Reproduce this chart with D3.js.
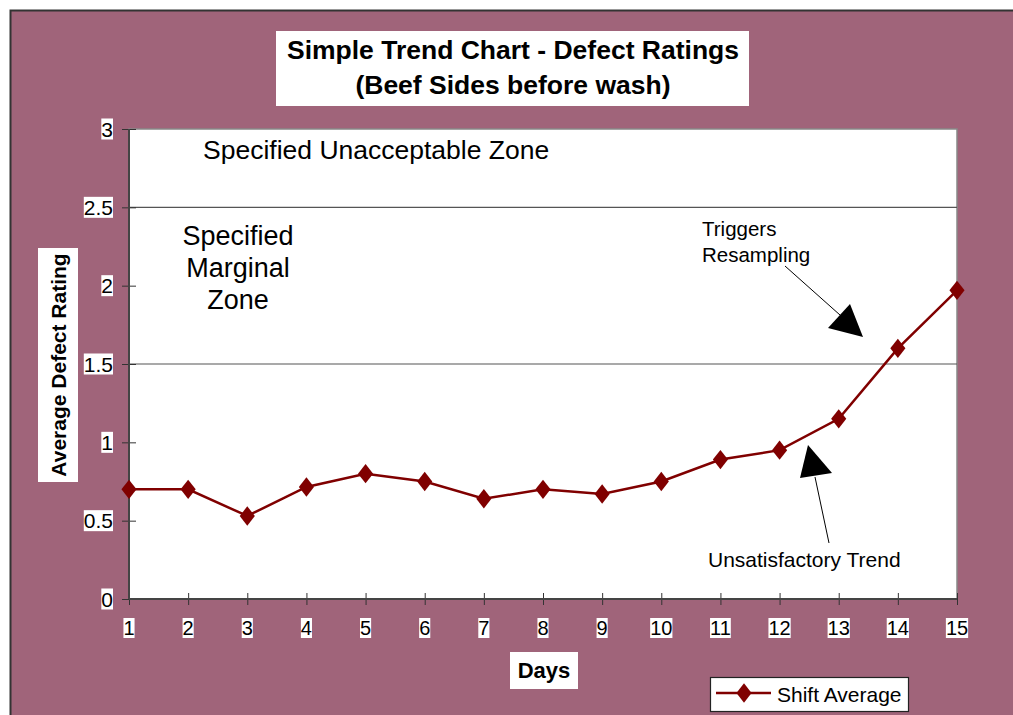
<!DOCTYPE html>
<html>
<head>
<meta charset="utf-8">
<script src="https://cdn.jsdelivr.net/npm/d3@7"></script>
<style>
  body { margin: 0; background: #fff; }
  text { font-family: "Liberation Sans", Arial, sans-serif; }
</style>
</head>
<body>
<div class="chart"></div>
<script>
var svgWidth = 1013
var svgHeight = 715

// data
var days = [1, 2, 3, 4, 5, 6, 7, 8, 9, 10, 11, 12, 13, 14, 15];
var shiftAverage = [0.70, 0.70, 0.53, 0.715, 0.80, 0.75, 0.64, 0.70, 0.67, 0.75, 0.89, 0.95, 1.15, 1.60, 1.97];
var yTicks = [0, 0.5, 1, 1.5, 2, 2.5, 3];
var zoneLines = [1.5, 2.5];

var margin = { top: 129, right: 56, bottom: 116, left: 129 };
var width = svgWidth - margin.left - margin.right;
var height = svgHeight - margin.top - margin.bottom;

var svg = d3.select(".chart")
    .append("svg")
    .attr("width", svgWidth)
    .attr("height", svgHeight);

// mauve chart area with dark frame on top/left
svg.append("rect")
    .attr("x", 10).attr("y", 10)
    .attr("width", svgWidth).attr("height", svgHeight)
    .attr("fill", "#a0647a");
svg.append("path")
    .attr("d", "M10.5,715 V10.5 H1013")
    .attr("fill", "none")
    .attr("stroke", "#333")
    .attr("stroke-width", 2);

// title
svg.append("rect")
    .attr("x", 276).attr("y", 31)
    .attr("width", 473).attr("height", 75)
    .attr("fill", "#fff");
svg.append("text")
    .attr("x", 513).attr("y", 59)
    .attr("text-anchor", "middle")
    .attr("font-weight", "bold")
    .attr("font-size", 26.5)
    .text("Simple Trend Chart - Defect Ratings");
svg.append("text")
    .attr("x", 513).attr("y", 94)
    .attr("text-anchor", "middle")
    .attr("font-weight", "bold")
    .attr("font-size", 26.5)
    .text("(Beef Sides before wash)");

var chartGroup = svg.append("g")
    .attr("transform", `translate(${margin.left}, ${margin.top})`);

var xLinearScale = d3.scaleLinear()
    .domain([1, 15])
    .range([0, width]);

var yLinearScale = d3.scaleLinear()
    .domain([0, 3])
    .range([height, 0]);

// plot area
chartGroup.append("rect")
    .attr("width", width)
    .attr("height", height)
    .attr("fill", "#fff")
    .attr("stroke", "#888")
    .attr("stroke-width", 1.5);

chartGroup.selectAll(".zone")
    .data(zoneLines)
    .enter()
    .append("line")
    .attr("x1", 0).attr("x2", width)
    .attr("y1", d => yLinearScale(d))
    .attr("y2", d => yLinearScale(d))
    .attr("stroke", "#555")
    .attr("stroke-width", 1.2);

// axes, ticks crossing the axis line
var leftAxis = d3.axisLeft(yLinearScale)
    .tickValues(yTicks)
    .tickSize(6)
    .tickFormat(d => d);
var yAxis = chartGroup.append("g").call(leftAxis);
yAxis.select(".domain").remove();
yAxis.selectAll(".tick line").attr("x2", -7).attr("x1", 7).attr("stroke", "#333");
yAxis.selectAll(".tick text").remove();

var bottomAxis = d3.axisBottom(xLinearScale)
    .tickValues(days)
    .tickFormat(d => d);
var xAxis = chartGroup.append("g")
    .attr("transform", `translate(0, ${height})`)
    .call(bottomAxis);
xAxis.select(".domain").remove();
xAxis.selectAll(".tick line").attr("y1", -6).attr("y2", 6).attr("stroke", "#333");
xAxis.selectAll(".tick text").remove();

chartGroup.append("line")
    .attr("x1", 0).attr("x2", 0).attr("y1", 0).attr("y2", height)
    .attr("stroke", "#444").attr("stroke-width", 2);
chartGroup.append("line")
    .attr("x1", 0).attr("x2", width).attr("y1", height).attr("y2", height)
    .attr("stroke", "#444").attr("stroke-width", 2);

// tick labels with white boxes
function boxedText(g, x, y, txt, size, anchor, bold) {
    var t = g.append("text")
        .attr("x", x).attr("y", y)
        .attr("text-anchor", anchor)
        .attr("font-size", size)
        .attr("font-weight", bold ? "bold" : "normal")
        .attr("dominant-baseline", "central")
        .text(txt);
    var b = t.node().getBBox();
    g.insert("rect", "text")
        .attr("x", b.x).attr("y", b.y + 1)
        .attr("width", b.width).attr("height", b.height - 2)
        .attr("fill", "#fff");
    return t;
}

var labelGroup = chartGroup.append("g");
yTicks.forEach(function(v) {
    boxedText(labelGroup, -16, yLinearScale(v), v, 21, "end");
});
days.forEach(function(d) {
    boxedText(labelGroup, xLinearScale(d), height + 29, d, 20, "middle");
});

// axis titles
var daysG = svg.append("g");
daysG.append("rect")
    .attr("x", 510).attr("y", 652).attr("width", 68).attr("height", 37)
    .attr("fill", "#fff");
daysG.append("text")
    .attr("x", 544).attr("y", 670)
    .attr("text-anchor", "middle")
    .attr("dominant-baseline", "central")
    .attr("font-weight", "bold")
    .attr("font-size", 22)
    .text("Days");

var yLab = svg.append("g")
    .attr("transform", "translate(58, 365) rotate(-90)");
yLab.append("rect")
    .attr("x", -117).attr("y", -20).attr("width", 234).attr("height", 40)
    .attr("fill", "#fff");
yLab.append("text")
    .attr("text-anchor", "middle")
    .attr("dominant-baseline", "central")
    .attr("font-weight", "bold")
    .attr("font-size", 21)
    .text("Average Defect Rating");

// zone labels
chartGroup.append("text")
    .attr("x", 74).attr("y", 30)
    .attr("font-size", 26.5)
    .text("Specified Unacceptable Zone");
var marg = chartGroup.append("text")
    .attr("text-anchor", "middle")
    .attr("font-size", 27);
["Specified", "Marginal", "Zone"].forEach(function(s, i) {
    marg.append("tspan")
        .attr("x", 109)
        .attr("y", 116 + i * 32)
        .text(s);
});

// series
var line = d3.line()
    .x((d, i) => xLinearScale(days[i]))
    .y(d => yLinearScale(d));

chartGroup.append("path")
    .datum(shiftAverage)
    .attr("d", line)
    .attr("fill", "none")
    .attr("stroke", "#800000")
    .attr("stroke-width", 2.5);

var diamond = d3.symbol().type(d3.symbolDiamond).size(150);
chartGroup.selectAll(".pt")
    .data(shiftAverage)
    .enter()
    .append("path")
    .attr("d", diamond)
    .attr("transform", (d, i) => `translate(${xLinearScale(days[i])}, ${yLinearScale(d)}) scale(1.15, 0.85)`)
    .attr("fill", "#800000");

// annotations
svg.append("text")
    .attr("x", 702).attr("y", 236)
    .attr("font-size", 20.5)
    .text("Triggers");
svg.append("text")
    .attr("x", 702).attr("y", 262)
    .attr("font-size", 20.5)
    .text("Resampling");
svg.append("text")
    .attr("x", 708).attr("y", 567)
    .attr("font-size", 21)
    .text("Unsatisfactory Trend");

svg.append("line")
    .attr("x1", 785).attr("y1", 266).attr("x2", 840).attr("y2", 315)
    .attr("stroke", "#000").attr("stroke-width", 1);
svg.append("polygon")
    .attr("points", "828,328 850,304 863,337")
    .attr("fill", "#000");
svg.append("line")
    .attr("x1", 829).attr("y1", 543).attr("x2", 815).attr("y2", 477)
    .attr("stroke", "#000").attr("stroke-width", 1);
svg.append("polygon")
    .attr("points", "808,445 800,478 832,473")
    .attr("fill", "#000");

// legend
var legend = svg.append("g");
legend.append("rect")
    .attr("x", 710.5).attr("y", 677.5).attr("width", 198).attr("height", 34)
    .attr("fill", "#fff")
    .attr("stroke", "#222")
    .attr("stroke-width", 1.2);
legend.append("line")
    .attr("x1", 716).attr("x2", 771).attr("y1", 693).attr("y2", 693)
    .attr("stroke", "#800000").attr("stroke-width", 2.5);
legend.append("path")
    .attr("d", diamond)
    .attr("transform", "translate(744, 693) scale(1.15, 0.85)")
    .attr("fill", "#800000");
legend.append("text")
    .attr("x", 777).attr("y", 694)
    .attr("dominant-baseline", "central")
    .attr("font-size", 21)
    .text("Shift Average");
</script>
</body>
</html>
